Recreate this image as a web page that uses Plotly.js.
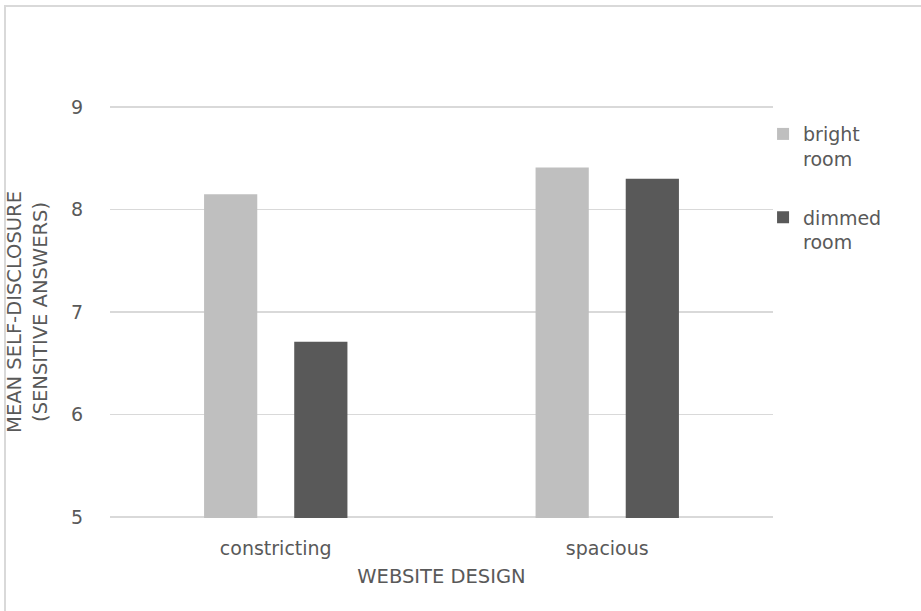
<!DOCTYPE html>
<html>
<head>
<meta charset="utf-8">
<script src="https://cdn.plot.ly/plotly-3.0.1.min.js"></script>
<style>
  html, body { margin: 0; padding: 0; background: #fff; }
  #chart { width: 921px; height: 611px; position: absolute; left: 0; top: 0; }
  #frame { position: absolute; left: 4px; top: 5px; width: 940px; height: 640px;
           border-left: 2px solid #d9d9d9; border-top: 2px solid #d9d9d9; pointer-events: none; }
</style>
</head>
<body>
<div id="chart"></div>
<div id="frame"></div>
<script>
const categories = ["constricting", "spacious"];
const brightRoom = [8.15, 8.41];
const dimmedRoom = [6.71, 8.30];
const seriesNames = ["bright<br>room", "dimmed<br>room"];
const yTicks = [5, 6, 7, 8, 9];

const textColor = "#595959";
const font = "DejaVu Sans, Liberation Sans, sans-serif";

const data = [
  { type: "bar", x: categories, y: brightRoom, name: seriesNames[0], legend: "legend",
    marker: { color: "#bfbfbf" }, hoverinfo: "y" },
  { type: "bar", x: categories, y: dimmedRoom, name: seriesNames[1], legend: "legend2",
    marker: { color: "#595959" }, hoverinfo: "y" }
];

const legendBase = {
  xanchor: "left", yanchor: "top",
  font: { size: 19, color: textColor, family: font },
  valign: "top", itemwidth: 30, bgcolor: "rgba(0,0,0,0)"
};

const layout = {
  width: 921, height: 611,
  margin: { l: 110, r: 148, t: 106, b: 93 },
  paper_bgcolor: "#ffffff", plot_bgcolor: "#ffffff",
  font: { family: font, color: textColor, size: 19 },
  barmode: "group",
  bargap: 0.456,
  bargroupgap: 0.41,
  showlegend: true,
  legend: Object.assign({}, legendBase, { x: 0.985, y: 0.978 }),
  legend2: Object.assign({}, legendBase, { x: 0.985, y: 0.776 }),
  xaxis: {
    type: "category",
    showline: false, showgrid: false, zeroline: false,
    ticks: "", ticklabelstandoff: 17,
    tickfont: { size: 19, color: textColor },
    title: { text: "WEBSITE DESIGN", font: { size: 19.5, color: textColor }, standoff: 11 }
  },
  yaxis: {
    range: [4.99, 9.01],
    tickvals: yTicks,
    ticktext: yTicks.map(String),
    showgrid: true, gridcolor: "#d9d9d9", gridwidth: 1.3,
    zeroline: false, showline: false, ticks: "",
    ticklabelstandoff: 26,
    tickfont: { size: 19, color: textColor },
    title: { text: "MEAN SELF-DISCLOSURE<br>(SENSITIVE ANSWERS)", font: { size: 19.5, color: textColor }, standoff: 18 }
  }
};

Plotly.newPlot("chart", data, layout, { displayModeBar: false, staticPlot: true });
</script>
</body>
</html>
